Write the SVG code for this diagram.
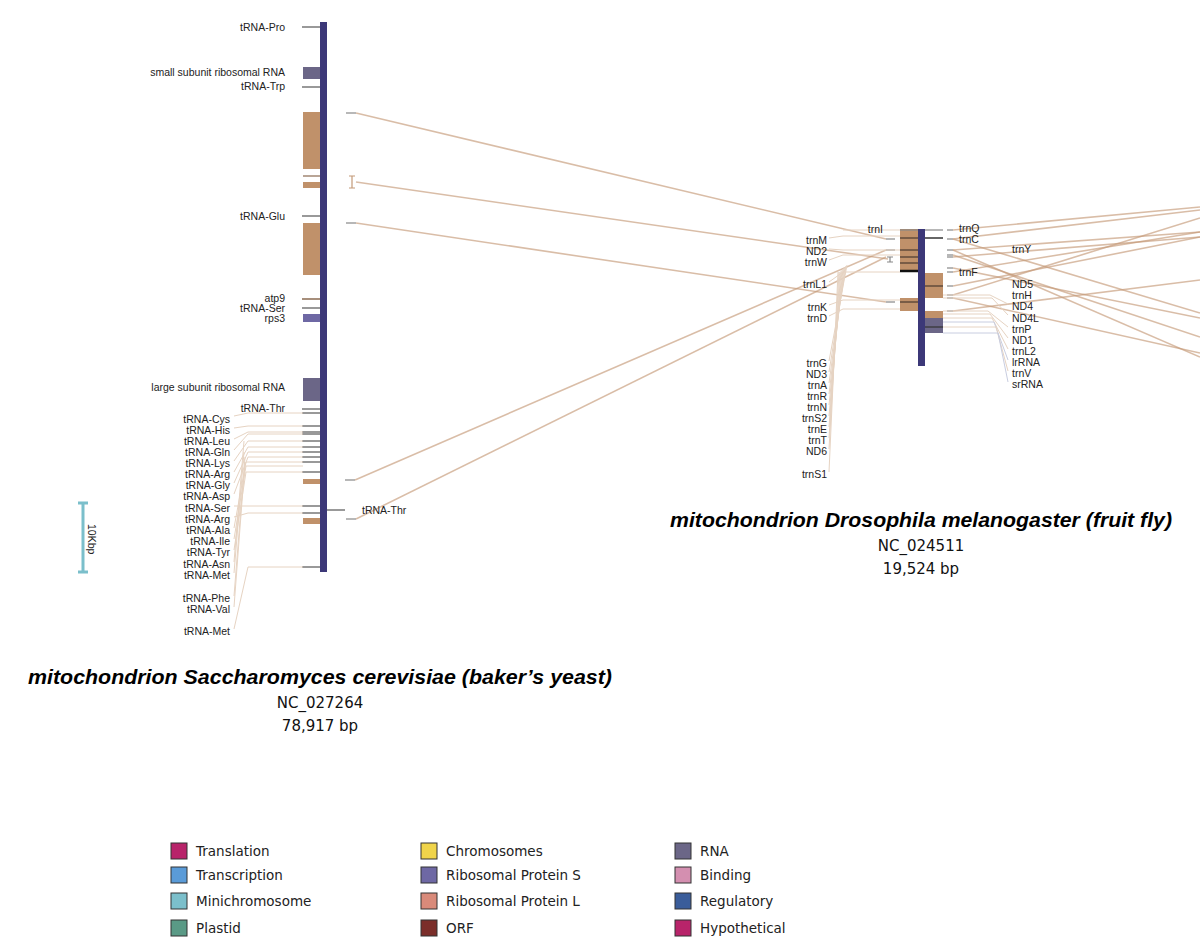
<svg xmlns="http://www.w3.org/2000/svg" width="1200" height="949" viewBox="0 0 1200 949">
<style>
.lbl{font-family:"Liberation Sans",Arial,sans-serif;font-size:10.5px;fill:#222}
.r{text-anchor:end}
.title{font-family:"Liberation Sans",Arial,sans-serif;font-size:21px;font-weight:bold;font-style:italic;fill:#000;text-anchor:middle}
.sub{font-family:"DejaVu Sans","Liberation Sans",sans-serif;font-size:15px;fill:#111;text-anchor:middle}
.leg{font-family:"DejaVu Sans","Liberation Sans",sans-serif;font-size:13.5px;fill:#222}
.chr{fill:#3c3878}
.cds{fill:#c0916a}
.rna{fill:#6b6687}
.rps{fill:#6e68a4}
.trna{stroke:#555;stroke-width:1.2}
.stripe{stroke:#4a3a30;stroke-width:1.2}
.lead{fill:none;stroke:#e6d3c2;stroke-width:1}
.con{fill:none;stroke:#c49a78;stroke-width:1.6;stroke-opacity:0.65}
.tick{stroke:#888;stroke-width:1.2}
.sw{stroke:#333;stroke-width:1}
</style>

<!-- connectors -->
<g id="connectors">
  <line class="con" x1="356" y1="113" x2="886" y2="239"/>
  <line class="con" x1="356" y1="182" x2="888" y2="259"/>
  <line class="con" x1="356" y1="223" x2="886" y2="302"/>
  <line class="con" x1="355" y1="480" x2="886" y2="250"/>
  <line class="con" x1="356" y1="519" x2="886" y2="257"/>
  <line class="con" x1="953" y1="230" x2="1200" y2="207"/>
  <line class="con" x1="953" y1="239" x2="1200" y2="210"/>
  <line class="con" x1="953" y1="239" x2="1200" y2="313"/>
  <line class="con" x1="953" y1="250" x2="1200" y2="232"/>
  <line class="con" x1="953" y1="250" x2="1200" y2="357"/>
  <line class="con" x1="953" y1="255" x2="1200" y2="337"/>
  <line class="con" x1="953" y1="257" x2="1200" y2="237"/>
  <line class="con" x1="953" y1="268" x2="1200" y2="318"/>
  <line class="con" x1="953" y1="272" x2="1200" y2="232"/>
  <line class="con" x1="953" y1="286" x2="1200" y2="237"/>
  <line class="con" x1="953" y1="295" x2="1200" y2="218"/>
  <line class="con" x1="953" y1="298" x2="1200" y2="353"/>
  <line class="con" x1="953" y1="311" x2="1200" y2="280"/>
  <!-- ticks -->
  <line class="tick" x1="346" y1="113" x2="356" y2="113" stroke="#c49a78"/>
  <path d="M349,176 H355 M352,176 V188 M349,188 H355" stroke="#c49a78" stroke-width="1.2" fill="none"/>
  <line class="tick" x1="346" y1="223" x2="356" y2="223" stroke="#c49a78"/>
  <line class="tick" x1="345" y1="480" x2="355" y2="480"/>
  <line class="tick" x1="346" y1="519" x2="356" y2="519"/>
  <line class="tick" x1="886" y1="239" x2="895" y2="239"/>
  <line class="tick" x1="886" y1="250" x2="895" y2="250"/>
  <path d="M887,257 H893 M890,257 V262 M887,262 H893" stroke="#888" stroke-width="1.2" fill="none"/>
  <line class="tick" x1="886" y1="302" x2="895" y2="302"/>
</g>

<!-- left chromosome -->
<g id="chr-yeast">
  <rect class="chr" x="320" y="22" width="7" height="550"/>
  <line class="trna" x1="302" y1="27" x2="320" y2="27"/>
  <rect class="rna" x="303" y="67" width="17" height="12"/>
  <line class="trna" x1="302" y1="87" x2="320" y2="87"/>
  <rect class="cds" x="303" y="112" width="17" height="57"/>
  <line x1="303" y1="176" x2="320" y2="176" stroke="#8a6a50" stroke-width="1.2"/>
  <rect class="cds" x="303" y="182" width="17" height="6"/>
  <line class="trna" x1="302" y1="216" x2="320" y2="216"/>
  <rect class="cds" x="303" y="223" width="17" height="52"/>
  <line x1="302" y1="299" x2="320" y2="299" stroke="#8a6a50" stroke-width="1.5"/>
  <line class="trna" x1="302" y1="308" x2="320" y2="308"/>
  <rect class="rps" x="303" y="314" width="17" height="8"/>
  <rect class="rna" x="303" y="378" width="17" height="23"/>
  <g class="trna">
    <line x1="302" y1="409" x2="320" y2="409"/>
    <line x1="302" y1="413" x2="320" y2="413"/>
    <line x1="302" y1="426" x2="320" y2="426"/>
    <line x1="302" y1="432" x2="320" y2="432"/>
    <line x1="302" y1="434" x2="320" y2="434"/>
    <line x1="302" y1="441" x2="320" y2="441"/>
    <line x1="302" y1="447" x2="320" y2="447"/>
    <line x1="302" y1="452" x2="320" y2="452"/>
    <line x1="302" y1="457" x2="320" y2="457"/>
    <line x1="302" y1="462" x2="320" y2="462"/>
    <line x1="302" y1="472" x2="320" y2="472"/>
    <line x1="302" y1="506" x2="320" y2="506"/>
    <line x1="302" y1="513" x2="320" y2="513"/>
    <line x1="302" y1="567" x2="320" y2="567"/>
    <line x1="327" y1="510" x2="345" y2="510"/>
  </g>
  <rect class="cds" x="303" y="479" width="17" height="5"/>
  <rect class="cds" x="303" y="518" width="17" height="6"/>
  <g class="lead">
    <polyline points="234,416 248,413 303,413"/>
    <polyline points="234,428 248,426 303,426"/>
    <polyline points="234,439 248,432 303,432"/>
    <polyline points="234,450 248,434 303,434"/>
    <polyline points="234,461 248,441 303,441"/>
    <polyline points="234,472 248,447 303,447"/>
    <polyline points="234,483 248,452 303,452"/>
    <polyline points="234,494 248,457 303,457"/>
    <polyline points="234,506 248,506 303,506"/>
    <polyline points="234,517 248,513 303,513"/>
    <polyline points="234,528 246,462 303,462"/>
    <polyline points="234,539 246,466 303,466"/>
    <polyline points="234,550 246,472 303,472"/>
    <polyline points="234,562 244,441"/>
    <polyline points="234,573 244,452"/>
    <polyline points="234,596 245,457"/>
    <polyline points="234,607 245,462"/>
    <polyline points="234,629 248,567 303,567"/>
  </g>
  <text class="lbl r" x="285" y="31">tRNA-Pro</text>
  <text class="lbl r" x="285" y="76">small subunit ribosomal RNA</text>
  <text class="lbl r" x="285" y="90">tRNA-Trp</text>
  <text class="lbl r" x="285" y="220">tRNA-Glu</text>
  <text class="lbl r" x="285" y="302">atp9</text>
  <text class="lbl r" x="285" y="312">tRNA-Ser</text>
  <text class="lbl r" x="285" y="322">rps3</text>
  <text class="lbl r" x="285" y="391">large subunit ribosomal RNA</text>
  <text class="lbl r" x="285" y="412">tRNA-Thr</text>
  <text class="lbl r" x="230" y="423">tRNA-Cys</text>
  <text class="lbl r" x="230" y="434">tRNA-His</text>
  <text class="lbl r" x="230" y="445">tRNA-Leu</text>
  <text class="lbl r" x="230" y="456">tRNA-Gln</text>
  <text class="lbl r" x="230" y="467">tRNA-Lys</text>
  <text class="lbl r" x="230" y="478">tRNA-Arg</text>
  <text class="lbl r" x="230" y="489">tRNA-Gly</text>
  <text class="lbl r" x="230" y="500">tRNA-Asp</text>
  <text class="lbl r" x="230" y="512">tRNA-Ser</text>
  <text class="lbl r" x="230" y="523">tRNA-Arg</text>
  <text class="lbl r" x="230" y="534">tRNA-Ala</text>
  <text class="lbl r" x="230" y="545">tRNA-Ile</text>
  <text class="lbl r" x="230" y="556">tRNA-Tyr</text>
  <text class="lbl r" x="230" y="568">tRNA-Asn</text>
  <text class="lbl r" x="230" y="579">tRNA-Met</text>
  <text class="lbl r" x="230" y="602">tRNA-Phe</text>
  <text class="lbl r" x="230" y="613">tRNA-Val</text>
  <text class="lbl r" x="230" y="635">tRNA-Met</text>
  <text class="lbl" x="362" y="514">tRNA-Thr</text>
</g>

<!-- middle chromosome -->
<g id="chr-fly">
  <rect class="chr" x="918" y="229" width="7" height="137"/>
  <rect class="cds" x="900" y="229" width="18" height="43"/>
  <g class="stripe">
    <line x1="900" y1="230" x2="918" y2="230" stroke="#888"/>
    <line x1="900" y1="238" x2="918" y2="238"/>
    <line x1="900" y1="250" x2="918" y2="250"/>
    <line x1="900" y1="257" x2="918" y2="257"/>
    <line x1="900" y1="263" x2="918" y2="263"/>
    <line x1="900" y1="271" x2="918" y2="271" stroke="#111" stroke-width="2.5"/>
  </g>
  <rect class="cds" x="900" y="298" width="18" height="13"/>
  <line x1="900" y1="302" x2="918" y2="302" class="stripe"/>
  <line x1="925" y1="230" x2="943" y2="230" stroke="#888" stroke-width="1.2"/>
  <line x1="925" y1="238" x2="943" y2="238" stroke="#333" stroke-width="1.5"/>
  <rect class="cds" x="925" y="273" width="18" height="25"/>
  <line x1="925" y1="286" x2="943" y2="286" class="stripe"/>
  <rect class="cds" x="925" y="311" width="18" height="7"/>
  <rect class="rna" x="925" y="318" width="18" height="15"/>
  <line x1="925" y1="327" x2="943" y2="327" stroke="#333" stroke-width="1.2"/>
  <g class="tick">
    <line x1="947" y1="230" x2="953" y2="230"/>
    <line x1="947" y1="239" x2="953" y2="239"/>
    <line x1="947" y1="250" x2="953" y2="250"/>
    <line x1="947" y1="255" x2="953" y2="255"/>
    <line x1="947" y1="257" x2="953" y2="257"/>
    <line x1="947" y1="268" x2="953" y2="268"/>
    <line x1="947" y1="272" x2="953" y2="272"/>
    <line x1="947" y1="286" x2="953" y2="286"/>
    <line x1="947" y1="295" x2="953" y2="295"/>
    <line x1="947" y1="298" x2="953" y2="298"/>
    <line x1="947" y1="311" x2="953" y2="311"/>
  </g>
  <g class="lead">
    <polyline points="843,230 900,230"/>
    <polyline points="829,238 843,236 900,236"/>
    <polyline points="829,249 843,250 900,250"/>
    <polyline points="829,260 843,255 900,255"/>
    <polyline points="829,282 843,272 900,272"/>
    <polyline points="829,305 843,300 900,300"/>
    <polyline points="829,316 843,309 900,309"/>
    <polyline points="829,361 847,265"/>
    <polyline points="829,372 846,266"/>
    <polyline points="829,383 845,267"/>
    <polyline points="829,394 844,268"/>
    <polyline points="829,405 843,269"/>
    <polyline points="829,416 842,270"/>
    <polyline points="829,427 841,271"/>
    <polyline points="829,438 840,272"/>
    <polyline points="829,449 839,272"/>
    <polyline points="829,472 838,272"/>
    <polyline points="943,295 990,295 1008,304"/>
    <polyline points="943,298 992,298 1008,315"/>
    <polyline points="943,311 988,311 1008,327"/>
    <polyline points="943,314 990,314 1008,338"/>
    <polyline points="943,318 992,318 1008,349"/>
    <polyline points="943,322 994,322 1008,360" stroke="#c8cde0"/>
    <polyline points="943,327 996,327 1008,371"/>
    <polyline points="943,333 998,333 1008,382" stroke="#c8cde0"/>
  </g>
  <text class="lbl r" x="883" y="233">trnI</text>
  <text class="lbl r" x="827" y="244">trnM</text>
  <text class="lbl r" x="827" y="255">ND2</text>
  <text class="lbl r" x="827" y="266">trnW</text>
  <text class="lbl r" x="827" y="288">trnL1</text>
  <text class="lbl r" x="827" y="311">trnK</text>
  <text class="lbl r" x="827" y="322">trnD</text>
  <text class="lbl r" x="827" y="367">trnG</text>
  <text class="lbl r" x="827" y="378">ND3</text>
  <text class="lbl r" x="827" y="389">trnA</text>
  <text class="lbl r" x="827" y="400">trnR</text>
  <text class="lbl r" x="827" y="411">trnN</text>
  <text class="lbl r" x="827" y="422">trnS2</text>
  <text class="lbl r" x="827" y="433">trnE</text>
  <text class="lbl r" x="827" y="444">trnT</text>
  <text class="lbl r" x="827" y="455">ND6</text>
  <text class="lbl r" x="827" y="478">trnS1</text>
  <text class="lbl" x="959" y="232">trnQ</text>
  <text class="lbl" x="959" y="243">trnC</text>
  <text class="lbl" x="1012" y="253">trnY</text>
  <text class="lbl" x="959" y="276">trnF</text>
  <text class="lbl" x="1012" y="288">ND5</text>
  <text class="lbl" x="1012" y="299">trnH</text>
  <text class="lbl" x="1012" y="310">ND4</text>
  <text class="lbl" x="1012" y="322">ND4L</text>
  <text class="lbl" x="1012" y="333">trnP</text>
  <text class="lbl" x="1012" y="344">ND1</text>
  <text class="lbl" x="1012" y="355">trnL2</text>
  <text class="lbl" x="1012" y="366">lrRNA</text>
  <text class="lbl" x="1012" y="377">trnV</text>
  <text class="lbl" x="1012" y="388">srRNA</text>
</g>

<!-- scale bar -->
<g id="scale">
  <path d="M83,503 V572 M78,503 H88 M78,572 H88" stroke="#7bbfcb" stroke-width="3" fill="none"/>
  <text class="lbl" font-size="9" transform="translate(88,524) rotate(90)">10Kbp</text>
</g>

<!-- titles -->
<g id="title-yeast">
  <text class="title" x="320" y="684" textLength="584" lengthAdjust="spacingAndGlyphs">mitochondrion Saccharomyces cerevisiae (baker’s yeast)</text>
  <text class="sub" x="320" y="708">NC_027264</text>
  <text class="sub" x="320" y="731">78,917 bp</text>
</g>
<g id="title-fly">
  <text class="title" x="921" y="527" textLength="502" lengthAdjust="spacingAndGlyphs">mitochondrion Drosophila melanogaster (fruit fly)</text>
  <text class="sub" x="921" y="551">NC_024511</text>
  <text class="sub" x="921" y="574">19,524 bp</text>
</g>

<!-- legend -->
<g id="legend">
  <rect class="sw" x="171" y="843" width="16" height="16" fill="#b8246a"/>
  <text class="leg" x="196" y="856">Translation</text>
  <rect class="sw" x="171" y="867" width="16" height="16" fill="#5a9bd8"/>
  <text class="leg" x="196" y="880">Transcription</text>
  <rect class="sw" x="171" y="893" width="16" height="16" fill="#7bbfcb"/>
  <text class="leg" x="196" y="906">Minichromosome</text>
  <rect class="sw" x="171" y="920" width="16" height="16" fill="#5a9a86"/>
  <text class="leg" x="196" y="933">Plastid</text>
  <rect class="sw" x="421" y="843" width="16" height="16" fill="#f0d44a"/>
  <text class="leg" x="446" y="856">Chromosomes</text>
  <rect class="sw" x="421" y="867" width="16" height="16" fill="#6e68a4"/>
  <text class="leg" x="446" y="880">Ribosomal Protein S</text>
  <rect class="sw" x="421" y="893" width="16" height="16" fill="#d98a7a"/>
  <text class="leg" x="446" y="906">Ribosomal Protein L</text>
  <rect class="sw" x="421" y="920" width="16" height="16" fill="#7b2e2a"/>
  <text class="leg" x="446" y="933">ORF</text>
  <rect class="sw" x="675" y="843" width="16" height="16" fill="#6b6687"/>
  <text class="leg" x="700" y="856">RNA</text>
  <rect class="sw" x="675" y="867" width="16" height="16" fill="#d48fb0"/>
  <text class="leg" x="700" y="880">Binding</text>
  <rect class="sw" x="675" y="893" width="16" height="16" fill="#3a5d9a"/>
  <text class="leg" x="700" y="906">Regulatory</text>
  <rect class="sw" x="675" y="920" width="16" height="16" fill="#b8246a"/>
  <text class="leg" x="700" y="933">Hypothetical</text>
</g>
</svg>
